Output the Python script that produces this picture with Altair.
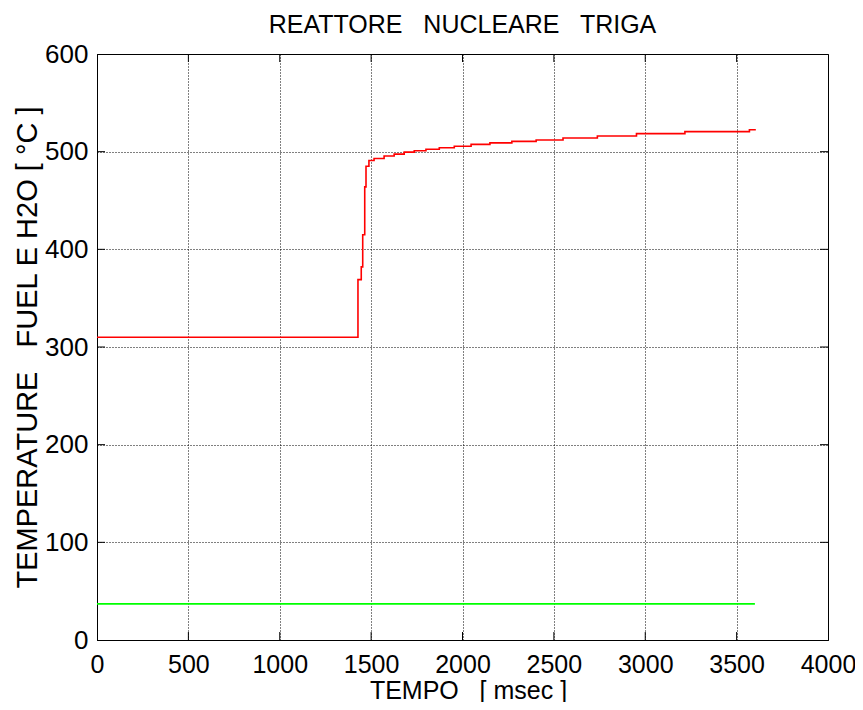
import altair as alt
import pandas as pd

# Red curve: fuel temperature (step function), time in msec
red_t = [0, 1428, 1446, 1454, 1465, 1472, 1488, 1516, 1571, 1626, 1681, 1736,
         1800, 1873, 1955, 2047, 2150, 2270, 2403, 2550, 2738, 2952, 3217, 3570, 3605]
red_v = [310, 369, 382, 415, 464, 485, 491, 493, 495.5, 497.5, 499.5, 501,
         502.5, 504, 505.5, 507.5, 509, 510.5, 512, 514, 516, 518.5, 520.5, 522.5, 522.5]

# Green curve: water temperature
green_t = [0, 3600]
green_v = [37, 37]

x_ticks = [0, 500, 1000, 1500, 2000, 2500, 3000, 3500, 4000]
y_ticks = [0, 100, 200, 300, 400, 500, 600]

W, H = 731, 586
FONT = "Liberation Sans"
NB = "\u00a0"

chart_title = "REATTORE" + NB * 2 + " NUCLEARE" + NB * 2 + " TRIGA"
x_title = "TEMPO" + NB * 2 + " [ msec ]"
y_title = "TEMPERATURE" + NB * 2 + " FUEL E H2O [ °C ]"

red_df = pd.DataFrame({"t": red_t, "v": red_v})
green_df = pd.DataFrame({"t": green_t, "v": green_v})
xt_df = pd.DataFrame({"t": x_ticks[1:-1]})
yt_df = pd.DataFrame({"v": y_ticks[1:-1]})
title_df = pd.DataFrame({"s": [chart_title]})

X = alt.X("t:Q", scale=alt.Scale(domain=[0, 4000], nice=False, zero=False),
          axis=alt.Axis(values=x_ticks, title=x_title, format="d"))
Y = alt.Y("v:Q", scale=alt.Scale(domain=[0, 600], nice=False, zero=False),
          axis=alt.Axis(values=y_ticks, title=y_title, format="d"))

red = alt.Chart(red_df).mark_line(color="#ff0000", strokeWidth=1.6,
                                   interpolate="step-after").encode(x=X, y=Y)
green = alt.Chart(green_df).mark_line(color="#00ff00", strokeWidth=1.6).encode(x=X, y=Y)

tick_len = 8
xb = alt.Chart(xt_df).mark_rule(color="black", strokeWidth=1).encode(
    x=X, y=alt.value(H), y2=alt.value(H - tick_len))
xtp = alt.Chart(xt_df).mark_rule(color="black", strokeWidth=1).encode(
    x=X, y=alt.value(0), y2=alt.value(tick_len))
yl = alt.Chart(yt_df).mark_rule(color="black", strokeWidth=1).encode(
    y=Y, x=alt.value(0), x2=alt.value(tick_len))
yr = alt.Chart(yt_df).mark_rule(color="black", strokeWidth=1).encode(
    y=Y, x=alt.value(W), x2=alt.value(W - tick_len))

title_mark = alt.Chart(title_df).mark_text(
    font=FONT, fontSize=25, color="black", align="center", baseline="alphabetic"
).encode(text="s:N", x=alt.value(W / 2), y=alt.value(-21))

chart = alt.layer(red, green, xb, xtp, yl, yr, title_mark).properties(
    width=W, height=H,
    autosize=alt.AutoSizeParams(type="none"),
    padding={"left": 89, "top": 46, "right": 27, "bottom": 62},
).configure_view(
    stroke="black", strokeWidth=1
).configure_axis(
    labelFont=FONT, labelColor="black", labelFlush=False,
    labelOverlap=False,
    titleFont=FONT, titleFontWeight="normal", titleColor="black",
    domain=True, domainColor="black", domainWidth=1,
    ticks=False,
    grid=True, gridColor="black", gridDash=[1, 2], gridWidth=1, gridOpacity=1,
).configure_axisX(
    labelFontSize=25, labelPadding=12,
    titleFontSize=25, titleBaseline="alphabetic", titleAlign="center",
    titleX=371, titleY=58,
).configure_axisY(
    labelFontSize=26, labelPadding=9, titlePadding=2, titleFontSize=29,
)

chart.save("out.html", embed_options={"renderer": "svg", "actions": False})
